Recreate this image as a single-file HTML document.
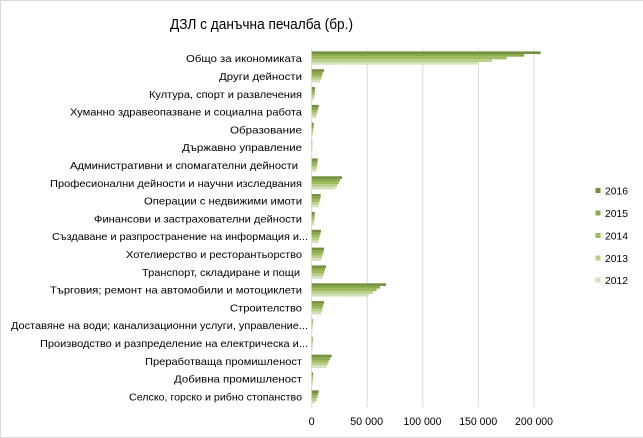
<!DOCTYPE html>
<html>
<head>
<meta charset="utf-8">
<style>
html,body{margin:0;padding:0;background:#fff;}
svg{display:block;}
text{font-family:"Liberation Sans","Noto Sans CJK SC",sans-serif;fill:#000;}
.a{fill:#72903e}.b{fill:#8aa94a}.c{fill:#9dbc5c}.d{fill:#b8cf8c}.e{fill:#d4e1bd}
</style>
</head>
<body>
<svg width="643" height="438" viewBox="0 0 643 438" xmlns="http://www.w3.org/2000/svg">
<rect x="0" y="0" width="643" height="438" fill="#fff"/>
<line x1="0" y1="0.5" x2="643" y2="0.5" stroke="#d9d9d9" stroke-width="1"/>
<line x1="0.5" y1="0" x2="0.5" y2="438" stroke="#d9d9d9" stroke-width="1"/>
<line x1="0" y1="437.5" x2="643" y2="437.5" stroke="#d9d9d9" stroke-width="1"/>

<text x="261.5" y="29" font-size="14.5" text-anchor="middle" textLength="183" lengthAdjust="spacingAndGlyphs">ДЗЛ с данъчна печалба (бр.)</text>

<g stroke="#d9d9d9" stroke-width="1">
<line x1="311.7" y1="48.5" x2="311.7" y2="407"/>
<line x1="367.2" y1="48.5" x2="367.2" y2="407"/>
<line x1="422.8" y1="48.5" x2="422.8" y2="407"/>
<line x1="478.4" y1="48.5" x2="478.4" y2="407"/>
<line x1="534" y1="48.5" x2="534" y2="407"/>
</g>

<g font-size="11" text-anchor="middle">
<text x="311.7" y="425">0</text>
<text x="366.7" y="425" textLength="33" lengthAdjust="spacingAndGlyphs">50 000</text>
<text x="422.5" y="425" textLength="38" lengthAdjust="spacingAndGlyphs">100 000</text>
<text x="478.2" y="425" textLength="38" lengthAdjust="spacingAndGlyphs">150 000</text>
<text x="534" y="425" textLength="38" lengthAdjust="spacingAndGlyphs">200 000</text>
</g>

<g font-size="10.5" text-anchor="end">
<text x="302" y="62" textLength="116" lengthAdjust="spacingAndGlyphs">Общо за икономиката</text>
<text x="302" y="80" textLength="83" lengthAdjust="spacingAndGlyphs">Други дейности</text>
<text x="302" y="98" textLength="153" lengthAdjust="spacingAndGlyphs">Култура, спорт и развлечения</text>
<text x="302" y="115.5" textLength="232" lengthAdjust="spacingAndGlyphs">Хуманно здравеопазване и социална работа</text>
<text x="302" y="133.5" textLength="72" lengthAdjust="spacingAndGlyphs">Образование</text>
<text x="302" y="151" textLength="120" lengthAdjust="spacingAndGlyphs">Държавно управление</text>
<text x="298" y="169" textLength="228" lengthAdjust="spacingAndGlyphs">Административни и  спомагателни дейности</text>
<text x="302" y="187" textLength="252" lengthAdjust="spacingAndGlyphs">Професионални дейности и научни изследвания</text>
<text x="302" y="204.5" textLength="158" lengthAdjust="spacingAndGlyphs">Операции с недвижими имоти</text>
<text x="302" y="222.5" textLength="208" lengthAdjust="spacingAndGlyphs">Финансови и застрахователни дейности</text>
<text x="308" y="240" textLength="256" lengthAdjust="spacingAndGlyphs">Създаване и разпространение на информация и...</text>
<text x="302" y="258" textLength="176" lengthAdjust="spacingAndGlyphs">Хотелиерство и ресторантьорство</text>
<text x="300" y="276" textLength="158" lengthAdjust="spacingAndGlyphs">Транспорт, складиране и пощи</text>
<text x="302" y="293.5" textLength="252" lengthAdjust="spacingAndGlyphs">Търговия; ремонт на автомобили и мотоциклети</text>
<text x="302" y="311.5" textLength="72" lengthAdjust="spacingAndGlyphs">Строителство</text>
<text x="308" y="329" textLength="297" lengthAdjust="spacingAndGlyphs">Доставяне на води; канализационни услуги,  управление...</text>
<text x="308" y="347" textLength="268" lengthAdjust="spacingAndGlyphs">Производство и разпределение на електрическа и...</text>
<text x="302" y="365" textLength="157" lengthAdjust="spacingAndGlyphs">Преработваща промишленост</text>
<text x="302" y="382.5" textLength="128" lengthAdjust="spacingAndGlyphs">Добивна промишленост</text>
<text x="302" y="400.5" textLength="173" lengthAdjust="spacingAndGlyphs">Селско, горско и рибно стопанство</text>
</g>

<!-- bars -->
<g transform="translate(311.7,51.37)"><rect class="a" y="0" width="229" height="2.66"/><rect class="b" y="2.66" width="212.3" height="2.66"/><rect class="c" y="5.32" width="195" height="2.66"/><rect class="d" y="7.98" width="180.3" height="2.66"/><rect class="e" y="10.64" width="167.3" height="2.66"/></g>
<g transform="translate(311.7,69.21)"><rect class="a" y="0" width="12.3" height="2.66"/><rect class="b" y="2.66" width="11" height="2.66"/><rect class="c" y="5.32" width="10.3" height="2.66"/><rect class="d" y="7.98" width="9.3" height="2.66"/><rect class="e" y="10.64" width="8.3" height="2.66"/></g>
<g transform="translate(311.7,87.05)"><rect class="a" y="0" width="3.3" height="2.66"/><rect class="b" y="2.66" width="3.2" height="2.66"/><rect class="c" y="5.32" width="3" height="2.66"/><rect class="d" y="7.98" width="2.6" height="2.66"/><rect class="e" y="10.64" width="2.4" height="2.66"/></g>
<g transform="translate(311.7,104.89)"><rect class="a" y="0" width="7" height="2.66"/><rect class="b" y="2.66" width="6.3" height="2.66"/><rect class="c" y="5.32" width="5.7" height="2.66"/><rect class="d" y="7.98" width="5" height="2.66"/><rect class="e" y="10.64" width="4.3" height="2.66"/></g>
<g transform="translate(311.7,122.73)"><rect class="a" y="0" width="2" height="2.66"/><rect class="b" y="2.66" width="2" height="2.66"/><rect class="c" y="5.32" width="1.7" height="2.66"/><rect class="d" y="7.98" width="1.3" height="2.66"/><rect class="e" y="10.64" width="1" height="2.66"/></g>
<g transform="translate(311.7,140.57)"><rect class="a" y="0" width="0.5" height="2.66"/><rect class="b" y="2.66" width="0.5" height="2.66"/><rect class="c" y="5.32" width="0.5" height="2.66"/><rect class="d" y="7.98" width="0.5" height="2.66"/><rect class="e" y="10.64" width="0.5" height="2.66"/></g>
<g transform="translate(311.7,158.41)"><rect class="a" y="0" width="6" height="2.66"/><rect class="b" y="2.66" width="5.7" height="2.66"/><rect class="c" y="5.32" width="5.3" height="2.66"/><rect class="d" y="7.98" width="5" height="2.66"/><rect class="e" y="10.64" width="4.7" height="2.66"/></g>
<g transform="translate(311.7,176.25)"><rect class="a" y="0" width="30.3" height="2.66"/><rect class="b" y="2.66" width="28.3" height="2.66"/><rect class="c" y="5.32" width="27" height="2.66"/><rect class="d" y="7.98" width="25.3" height="2.66"/><rect class="e" y="10.64" width="23.7" height="2.66"/></g>
<g transform="translate(311.7,194.09)"><rect class="a" y="0" width="9" height="2.66"/><rect class="b" y="2.66" width="8.7" height="2.66"/><rect class="c" y="5.32" width="8" height="2.66"/><rect class="d" y="7.98" width="7.3" height="2.66"/><rect class="e" y="10.64" width="7" height="2.66"/></g>
<g transform="translate(311.7,211.93)"><rect class="a" y="0" width="3" height="2.66"/><rect class="b" y="2.66" width="3" height="2.66"/><rect class="c" y="5.32" width="2.7" height="2.66"/><rect class="d" y="7.98" width="2.3" height="2.66"/><rect class="e" y="10.64" width="2.3" height="2.66"/></g>
<g transform="translate(311.7,229.77)"><rect class="a" y="0" width="9.3" height="2.66"/><rect class="b" y="2.66" width="8.7" height="2.66"/><rect class="c" y="5.32" width="8" height="2.66"/><rect class="d" y="7.98" width="7.3" height="2.66"/><rect class="e" y="10.64" width="6.7" height="2.66"/></g>
<g transform="translate(311.7,247.61)"><rect class="a" y="0" width="12.3" height="2.66"/><rect class="b" y="2.66" width="11.7" height="2.66"/><rect class="c" y="5.32" width="11" height="2.66"/><rect class="d" y="7.98" width="10.3" height="2.66"/><rect class="e" y="10.64" width="9.7" height="2.66"/></g>
<g transform="translate(311.7,265.45)"><rect class="a" y="0" width="14.3" height="2.66"/><rect class="b" y="2.66" width="13.3" height="2.66"/><rect class="c" y="5.32" width="12.3" height="2.66"/><rect class="d" y="7.98" width="11.7" height="2.66"/><rect class="e" y="10.64" width="11" height="2.66"/></g>
<g transform="translate(311.7,283.29)"><rect class="a" y="0" width="74.3" height="2.66"/><rect class="b" y="2.66" width="68.3" height="2.66"/><rect class="c" y="5.32" width="65" height="2.66"/><rect class="d" y="7.98" width="61" height="2.66"/><rect class="e" y="10.64" width="57" height="2.66"/></g>
<g transform="translate(311.7,301.13)"><rect class="a" y="0" width="12.3" height="2.66"/><rect class="b" y="2.66" width="11.7" height="2.66"/><rect class="c" y="5.32" width="11" height="2.66"/><rect class="d" y="7.98" width="10.3" height="2.66"/><rect class="e" y="10.64" width="9.7" height="2.66"/></g>
<g transform="translate(311.7,318.97)"><rect class="a" y="0" width="1" height="2.66"/><rect class="b" y="2.66" width="1" height="2.66"/><rect class="c" y="5.32" width="0.8" height="2.66"/><rect class="d" y="7.98" width="0.8" height="2.66"/><rect class="e" y="10.64" width="0.7" height="2.66"/></g>
<g transform="translate(311.7,336.81)"><rect class="a" y="0" width="1" height="2.66"/><rect class="b" y="2.66" width="1" height="2.66"/><rect class="c" y="5.32" width="0.8" height="2.66"/><rect class="d" y="7.98" width="0.8" height="2.66"/><rect class="e" y="10.64" width="0.7" height="2.66"/></g>
<g transform="translate(311.7,354.65)"><rect class="a" y="0" width="20" height="2.66"/><rect class="b" y="2.66" width="18.3" height="2.66"/><rect class="c" y="5.32" width="17" height="2.66"/><rect class="d" y="7.98" width="16" height="2.66"/><rect class="e" y="10.64" width="15" height="2.66"/></g>
<g transform="translate(311.7,372.49)"><rect class="a" y="0" width="1.3" height="2.66"/><rect class="b" y="2.66" width="1.2" height="2.66"/><rect class="c" y="5.32" width="1" height="2.66"/><rect class="d" y="7.98" width="1" height="2.66"/><rect class="e" y="10.64" width="1" height="2.66"/></g>
<g transform="translate(311.7,390.33)"><rect class="a" y="0" width="7" height="2.66"/><rect class="b" y="2.66" width="6.3" height="2.66"/><rect class="c" y="5.32" width="5.7" height="2.66"/><rect class="d" y="7.98" width="5" height="2.66"/><rect class="e" y="10.64" width="3.7" height="2.66"/></g>

<g font-size="10.5">
<rect x="595.5" y="188" width="5" height="5" class="a"/>
<text x="605" y="194.5" textLength="23" lengthAdjust="spacingAndGlyphs">2016</text>
<rect x="595.5" y="210.5" width="5" height="5" class="b"/>
<text x="605" y="217" textLength="23" lengthAdjust="spacingAndGlyphs">2015</text>
<rect x="595.5" y="233" width="5" height="5" class="c"/>
<text x="605" y="239.5" textLength="23" lengthAdjust="spacingAndGlyphs">2014</text>
<rect x="595.5" y="255.5" width="5" height="5" class="d"/>
<text x="605" y="262" textLength="23" lengthAdjust="spacingAndGlyphs">2013</text>
<rect x="595.5" y="277.5" width="5" height="5" class="e"/>
<text x="605" y="284" textLength="23" lengthAdjust="spacingAndGlyphs">2012</text>
</g>
</svg>
</body>
</html>
